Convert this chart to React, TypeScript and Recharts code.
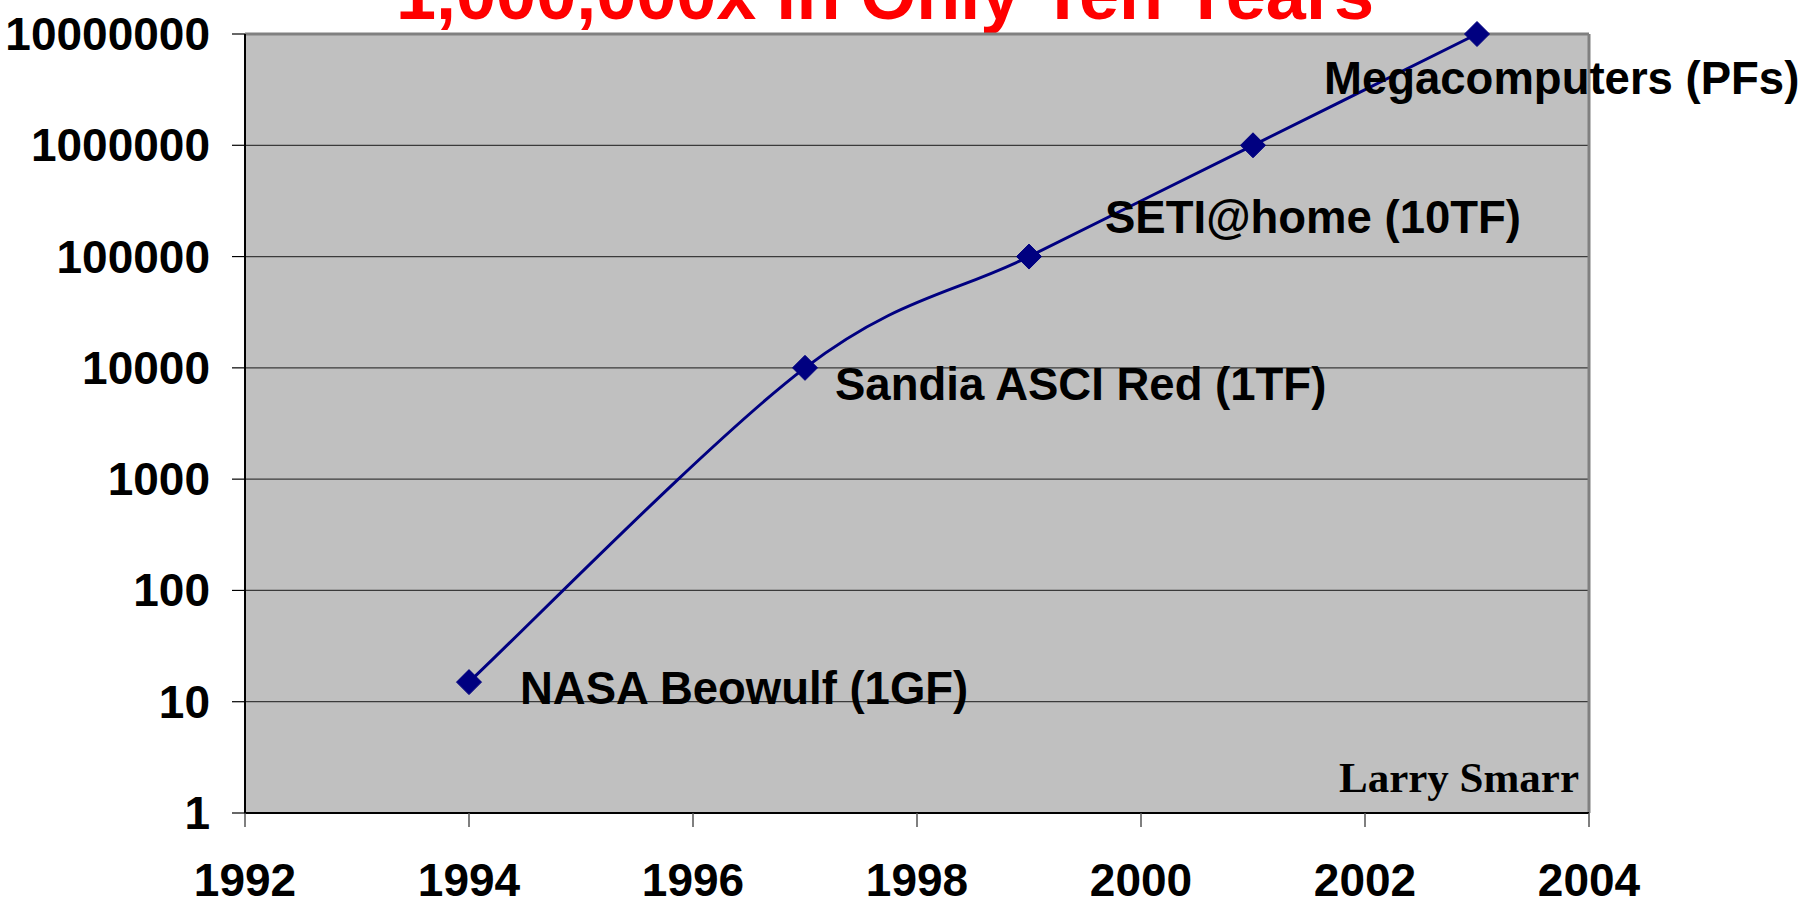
import React from 'react';
import {
  LineChart,
  Line,
  XAxis,
  YAxis,
  CartesianGrid,
  ReferenceLine,
  LabelList,
  Customized,
} from 'recharts';

// ---- data ----
const years = [1994, 1997, 1999, 2001, 2003];
const performance = [15, 10000, 100000, 1000000, 10000000];
const pointLabels = ['NASA Beowulf (1GF)', 'Sandia ASCI Red (1TF)', 'SETI@home (10TF)', '', 'Megacomputers (PFs)'];
const xTicks = [1992, 1994, 1996, 1998, 2000, 2002, 2004];
const yTicks = [1, 10, 100, 1000, 10000, 100000, 1000000, 10000000];
const titleText = '1,000,000x in Only Ten Years';
const creditText = 'Larry Smarr';

// ---- styling (positions / offsets kept apart from data) ----
const labelOffsets = [
  { dx: 51, dy: 22 },
  { dx: 30, dy: 32 },
  { dx: 76, dy: -24 },
  { dx: 0, dy: 0 },
  { dx: -153, dy: 60 },
];
const SANS = '"Liberation Sans", Arial, sans-serif';
const SERIF = '"Liberation Serif", "Times New Roman", serif';
const NAVY = '#000080';

const data = years.map((year, i) => ({ year, value: performance[i], label: pointLabels[i] }));

// Excel-like smoothed line (cardinal / Catmull-Rom style bezier)
const excelSmooth = (context: any) => {
  let pts: number[][] = [];
  return {
    areaStart() {},
    areaEnd() {},
    lineStart() {
      pts = [];
    },
    point(x: number, y: number) {
      pts.push([+x, +y]);
    },
    lineEnd() {
      const n = pts.length;
      if (!n) return;
      context.moveTo(pts[0][0], pts[0][1]);
      for (let i = 0; i < n - 1; i++) {
        const p0 = pts[Math.max(0, i - 1)];
        const p1 = pts[i];
        const p2 = pts[i + 1];
        const p3 = pts[Math.min(n - 1, i + 2)];
        context.bezierCurveTo(
          p1[0] + (p2[0] - p0[0]) / 6,
          p1[1] + (p2[1] - p0[1]) / 6,
          p2[0] - (p3[0] - p1[0]) / 6,
          p2[1] - (p3[1] - p1[1]) / 6,
          p2[0],
          p2[1]
        );
      }
    },
  };
};

const YTick = (props: any) => {
  const { x, y, payload } = props;
  return (
    <text x={x} y={y} dy={16} textAnchor="end" fontSize={46} fontWeight={700} fontFamily={SANS} fill="#000">
      {String(payload.value)}
    </text>
  );
};

const XTick = (props: any) => {
  const { x, y, payload } = props;
  return (
    <text x={x} y={y} dy={69} textAnchor="middle" fontSize={46} fontWeight={700} fontFamily={SANS} fill="#000">
      {String(payload.value)}
    </text>
  );
};

const Diamond = (props: any) => {
  const { cx, cy } = props;
  if (cx == null || cy == null) return <g key={props.index} />;
  const r = 12.5;
  return (
    <path
      key={`d-${props.index}`}
      d={`M${cx},${cy - r}L${cx + r},${cy}L${cx},${cy + r}L${cx - r},${cy}Z`}
      fill={NAVY}
      stroke={NAVY}
      strokeWidth={1}
    />
  );
};

const PointLabel = (props: any) => {
  const { x, y, index, value } = props;
  if (!value) return null;
  const off = labelOffsets[index] || { dx: 0, dy: 0 };
  return (
    <text x={x + off.dx} y={y + off.dy} fontSize={45.5} fontWeight={700} fontFamily={SANS} fill="#000">
      {value}
    </text>
  );
};

const Title = () => (
  <text x={885} y={19} textAnchor="middle" fontSize={72} fontWeight={700} fontFamily={SANS} fill="#FF0000">
    {titleText}
  </text>
);

const Credit = () => (
  <text x={1579} y={792} textAnchor="end" fontSize={43} fontWeight={700} fontFamily={SERIF} fill="#000">
    {creditText}
  </text>
);

export default function App() {
  return (
    <div style={{ position: 'absolute', left: 0, top: 0, width: 1801, height: 899, overflow: 'hidden', background: '#fff' }}>
      <LineChart width={1801} height={899} data={data} margin={{ top: 34, right: 212, bottom: 0, left: 0 }}>
        <CartesianGrid vertical={false} fill="#C0C0C0" fillOpacity={1} stroke="#3a3a3a" strokeWidth={1.2} />
        <ReferenceLine y={10000000} stroke="#808080" strokeWidth={3} />
        <ReferenceLine x={2004} stroke="#808080" strokeWidth={3} />
        <XAxis
          dataKey="year"
          type="number"
          domain={[1992, 2004]}
          ticks={xTicks}
          interval={0}
          height={86}
          tickSize={14}
          tickMargin={0}
          axisLine={{ stroke: '#000', strokeWidth: 2 }}
          tickLine={{ stroke: '#555', strokeWidth: 1.5 }}
          tick={<XTick />}
        />
        <YAxis
          type="number"
          scale="log"
          domain={[1, 10000000]}
          ticks={yTicks}
          interval={0}
          width={245}
          tickSize={13}
          tickMargin={22}
          axisLine={{ stroke: '#000', strokeWidth: 2 }}
          tickLine={{ stroke: '#000', strokeWidth: 1.2 }}
          tick={<YTick />}
        />
        <Line
          dataKey="value"
          type={excelSmooth as any}
          stroke={NAVY}
          strokeWidth={3}
          dot={(p: any) => <Diamond key={`dot-${p.index}`} {...p} />}
          activeDot={false}
          isAnimationActive={false}
        >
          <LabelList dataKey="label" content={<PointLabel />} />
        </Line>
        <Customized component={Title} />
        <Customized component={Credit} />
      </LineChart>
    </div>
  );
}
